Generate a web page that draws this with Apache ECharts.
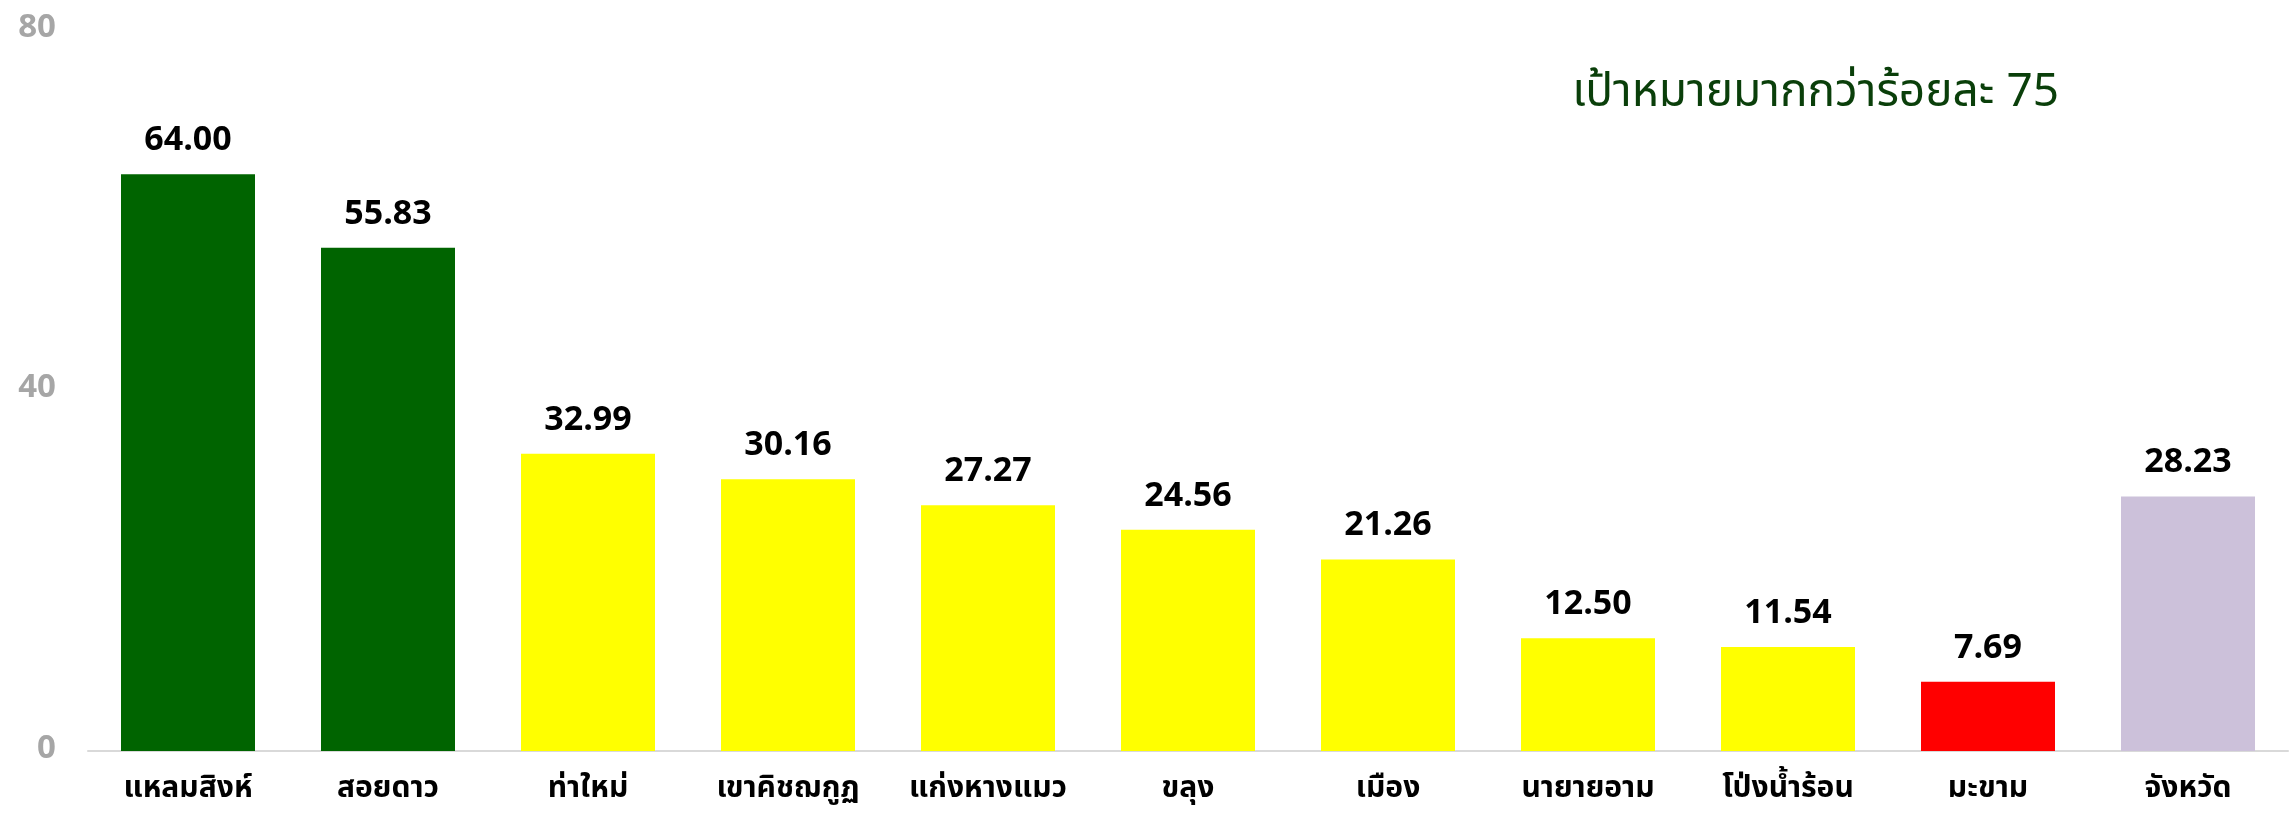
<!DOCTYPE html>
<html>
<head>
<meta charset="utf-8">
<script src="https://cdn.jsdelivr.net/npm/echarts@6/dist/echarts.min.js"></script>
<style>
  html, body { margin: 0; padding: 0; background: #fff; }
  #chart { width: 2292px; height: 814px; }
</style>
</head>
<body>
<div id="chart"></div>
<script>
// อำเภอ
const districts = ['แหลมสิงห์', 'สอยดาว', 'ท่าใหม่', 'เขาคิชฌกูฏ', 'แก่งหางแมว', 'ขลุง', 'เมือง', 'นายายอาม', 'โป่งน้ำร้อน', 'มะขาม', 'จังหวัด'];
const values = [64.00, 55.83, 32.99, 30.16, 27.27, 24.56, 21.26, 12.50, 11.54, 7.69, 28.23];
const barColors = ['#006400', '#006400', '#ffff00', '#ffff00', '#ffff00', '#ffff00', '#ffff00', '#ffff00', '#ffff00', '#ff0000', '#ccc1da'];
const yTicks = [0, 40, 80];

const chart = echarts.init(document.getElementById('chart'));
const font = 'Tahoma, "Noto Sans Thai", "Noto Sans", sans-serif';

chart.setOption({
  animation: false,
  title: {
    text: 'เป้าหมายมากกว่าร้อยละ 75',
    right: 228,
    top: 69,
    textStyle: { color: '#0a3f0a', fontSize: 46, fontWeight: 'normal', fontFamily: font }
  },
  grid: { left: 88, right: 4, top: 30, bottom: 63 },
  xAxis: {
    type: 'category',
    data: districts,
    axisLine: { lineStyle: { color: '#d9d9d9', width: 2 } },
    axisTick: { lineStyle: { color: '#d9d9d9', width: 2 }, length: 10 },
    axisLabel: { color: '#000', fontSize: 30, fontWeight: 'bold', fontFamily: font, margin: 25, interval: 0 }
  },
  yAxis: {
    type: 'value',
    min: yTicks[0],
    max: yTicks[yTicks.length - 1],
    interval: yTicks[1] - yTicks[0],
    splitLine: { show: false },
    axisLine: { show: false },
    axisLabel: { color: '#a6a6a6', fontSize: 33, fontWeight: 'bold', fontFamily: font, margin: 32 }
  },
  series: [{
    type: 'bar',
    barWidth: 134,
    data: values.map((v, i) => ({ value: v, itemStyle: { color: barColors[i] } })),
    label: {
      show: true,
      position: 'top',
      distance: 14,
      color: '#000',
      fontSize: 34,
      fontWeight: 'bold',
      fontFamily: font,
      formatter: p => p.value.toFixed(2)
    }
  }]
});
</script>
</body>
</html>
